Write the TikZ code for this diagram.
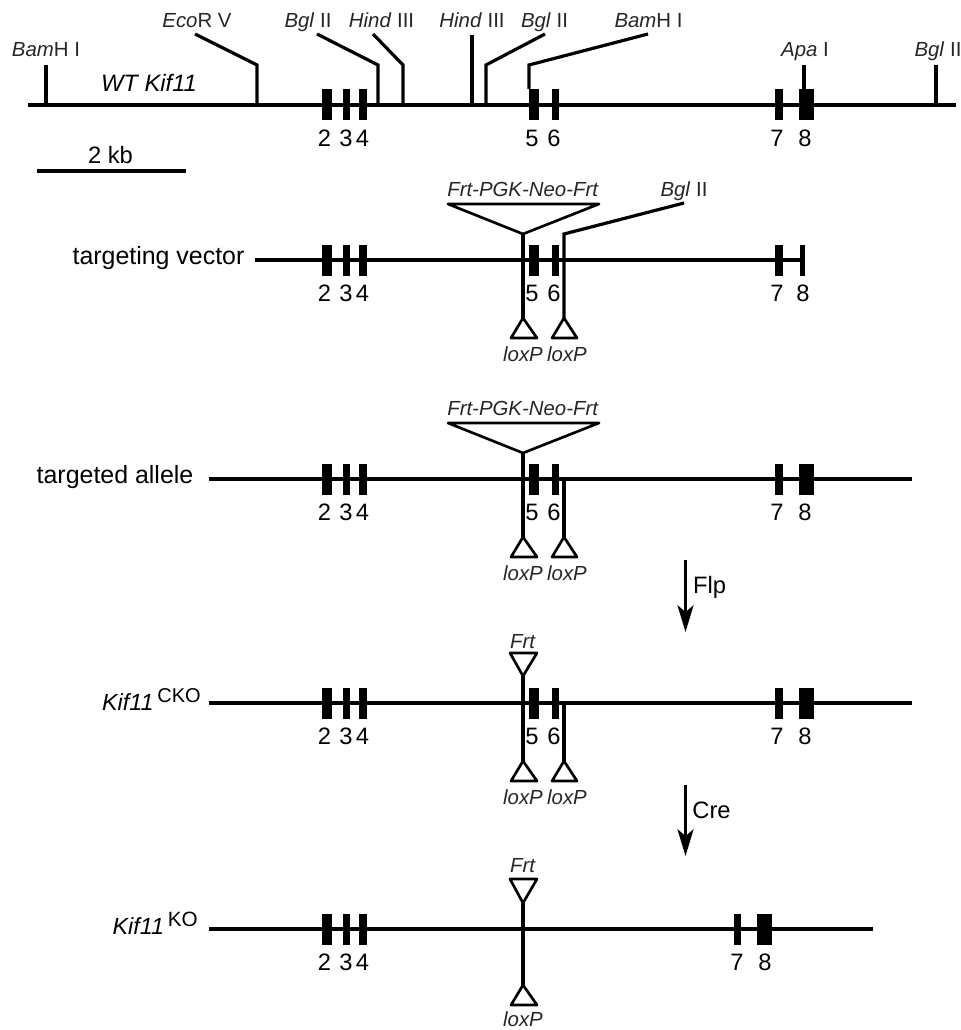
\documentclass[tikz,border=0pt]{standalone}
\usepackage{fontspec}
\setmainfont{Liberation Sans}
\usepackage{tikz}
\usetikzlibrary{positioning,arrows.meta}

\begin{document}
\begin{tikzpicture}[
    x=0.75pt, y=-0.75pt,
    gene/.style={line width=2.3pt},
    link/.style={line width=2.4pt, line join=miter},
    marker/.style={line width=2pt, line join=round},
    exon/.style={
        rectangle,
        fill=black,
        inner sep=0pt,
        minimum height=23.25pt
    },
    num/.style={font=\fontsize{17.8}{20}\selectfont, inner sep=0pt},
    site/.style={font=\fontsize{15.3}{17}\selectfont\color{black!85}, inner sep=0pt, anchor=base},
    rowname/.style={font=\fontsize{18.7}{21}\selectfont, inner sep=0pt, anchor=base},
    geno/.style={font=\fontsize{17.5}{20}\selectfont, inner sep=0pt, anchor=base},
    >={Stealth[length=20pt,width=12pt,inset=5pt]}
]
\useasboundingbox (0,0) rectangle (960,1030);

% WT allele
\coordinate (wtL) at (28,105);
\coordinate (wtR) at (956,105);
\draw[gene] (wtL) -- (wtR);
\foreach \nm/\cx/\ew/\lx in {2/326.5/10/324.5, 3/346.5/7/346, 4/363/8/362.5, 5/534/10/532, 6/555.5/7/554, 7/779/8/777, 8/806.5/15/805} {
    \node[exon, minimum width=\ew*0.75pt] (wt\nm) at (\cx,105) {};
    \node[num] (wtn\nm) at (\lx,138.5) {\nm};
}
\node[font=\fontsize{17.8}{20}\selectfont\itshape, inner sep=0pt, anchor=base] (wtname) at (149,92) {WT Kif11};
\node[num, anchor=base] (kb) at (110.5,164) {2 kb};
\coordinate (kbL) at (37,171);
\coordinate (kbR) at (186,171);
\draw[link] (kbL) -- (kbR);

% restriction sites
\node[site] (bam1) at (46,57) {\textit{Bam}H I};
\node[site] (eco) at (197,28) {\textit{Eco}R V};
\node[site] (bgl1) at (308,28) {\textit{Bgl} II};
\node[site] (hin1) at (381.5,28) {\textit{Hind} III};
\node[site] (hin2) at (472,28) {\textit{Hind} III};
\node[site] (bgl2) at (544.5,28) {\textit{Bgl} II};
\node[site] (bam2) at (648.5,28) {\textit{Bam}H I};
\node[site] (apa) at (805,57) {\textit{Apa} I};
\node[site] (bgl3) at (938,57) {\textit{Bgl} II};
\draw[link] (46,65) -- (46,105);
\draw[link] (195,34) -- (257,65) -- (257,105);
\draw[link] (317,34) -- (378,65) -- (378,105);
\draw[link] (373,34) -- (403,65) -- (403,105);
\draw[link] (472,35) -- (472,105);
\draw[link] (545,34) -- (486,65) -- (486,105);
\draw[link] (648,34) -- (529,65) -- (529,89);
\draw[link] (804,65) -- (804,89);
\draw[link] (936,65) -- (936,105);

% targeting vector
\node[rowname] (tvname) at (158.5,265) {targeting vector};
\coordinate (tvL) at (255,260);
\coordinate (tvR) at (803,260);
\draw[gene] (tvL) -- (tvR);
\foreach \nm/\cx/\ew/\lx in {2/326.5/10/324.5, 3/346.5/7/346, 4/363/8/362.5, 5/534/10/532, 6/555.5/7/554, 7/779/8/777, 8/802/5/803} {
    \node[exon, minimum width=\ew*0.75pt] (tv\nm) at (\cx,260.5) {};
    \node[num] (tvn\nm) at (\lx,293.5) {\nm};
}
\node[site] (tvneo) at (523,197) {\textit{Frt-PGK-Neo-Frt}};
\node[site] (tvbgl) at (684,197) {\textit{Bgl} II};
\draw[marker] (448,204) -- (599,204) -- (523,234) -- cycle;
\draw[link] (523,234) -- (523,318);
\draw[link] (684,203) -- (564,234) -- (564,318);
\draw[marker] (523,318) -- (537,338) -- (511,338) -- cycle;
\draw[marker] (564,318) -- (577,338) -- (552,338) -- cycle;
\node[site] (tvlox1) at (523,361) {\textit{loxP}};
\node[site] (tvlox2) at (567,361) {\textit{loxP}};

% targeted allele
\node[rowname] (taname) at (115,483) {targeted allele};
\coordinate (taL) at (209,479);
\coordinate (taR) at (912,479);
\draw[gene] (taL) -- (taR);
\foreach \nm/\cx/\ew/\lx in {2/326.5/10/324.5, 3/346.5/7/346, 4/363/8/362.5, 5/534/10/532, 6/555.5/7/554, 7/779/8/777, 8/806.5/15/805} {
    \node[exon, minimum width=\ew*0.75pt] (ta\nm) at (\cx,479.5) {};
    \node[num] (tan\nm) at (\lx,512.5) {\nm};
}
\node[site] (taneo) at (523,415) {\textit{Frt-PGK-Neo-Frt}};
\draw[marker] (448,423) -- (599,423) -- (523,453) -- cycle;
\draw[link] (523,453) -- (523,537);
\draw[link] (564,479) -- (564,537);
\draw[marker] (523,537) -- (537,557) -- (511,557) -- cycle;
\draw[marker] (564,537) -- (577,557) -- (552,557) -- cycle;
\node[site] (talox1) at (523,580) {\textit{loxP}};
\node[site] (talox2) at (567,580) {\textit{loxP}};

% Flp step
\coordinate (flpA) at (685.5,560);
\coordinate (flpB) at (685.5,632);
\draw[->, link] (flpA) -- (flpB);
\node[num, anchor=base] (flp) at (709.5,593) {Flp};

% conditional allele
\node[geno, anchor=base east] (ckoname) at (201,710) {\textit{Kif11}\,\raisebox{6pt}{\fontsize{15}{15}\selectfont CKO}};
\coordinate (ckoL) at (209,703);
\coordinate (ckoR) at (912,703);
\draw[gene] (ckoL) -- (ckoR);
\foreach \nm/\cx/\ew/\lx in {2/326.5/10/324.5, 3/346.5/7/346, 4/363/8/362.5, 5/534/10/532, 6/555.5/7/554, 7/779/8/777, 8/806.5/15/805} {
    \node[exon, minimum width=\ew*0.75pt] (cko\nm) at (\cx,703.5) {};
    \node[num] (ckon\nm) at (\lx,736.5) {\nm};
}
\node[site] (ckofrt) at (523,648) {\textit{Frt}};
\draw[marker] (510,653) -- (537,653) -- (523,676) -- cycle;
\draw[link] (523,676) -- (523,761);
\draw[link] (564,703) -- (564,761);
\draw[marker] (523,761) -- (537,781) -- (511,781) -- cycle;
\draw[marker] (564,761) -- (577,781) -- (552,781) -- cycle;
\node[site] (ckolox1) at (523,804) {\textit{loxP}};
\node[site] (ckolox2) at (567,804) {\textit{loxP}};

% Cre step
\coordinate (creA) at (685.5,785);
\coordinate (creB) at (685.5,856);
\draw[->, link] (creA) -- (creB);
\node[num, anchor=base] (cre) at (711.5,818) {Cre};

% knockout allele
\node[geno, anchor=base east] (koname) at (198,934) {\textit{Kif11}\,\raisebox{6pt}{\fontsize{15.5}{15}\selectfont KO}};
\coordinate (koL) at (209,929);
\coordinate (koR) at (873,929);
\draw[gene] (koL) -- (koR);
\foreach \nm/\cx/\ew/\lx in {2/326.5/10/324.5, 3/346.5/7/346, 4/363/8/362.5, 7/737.5/7/737, 8/764.5/15/765} {
    \node[exon, minimum width=\ew*0.75pt] (ko\nm) at (\cx,929.5) {};
    \node[num] (kon\nm) at (\lx,962.5) {\nm};
}
\node[site] (kofrt) at (523,872) {\textit{Frt}};
\draw[marker] (510,879) -- (537,879) -- (523,903) -- cycle;
\draw[link] (523,903) -- (523,985);
\draw[marker] (523,985) -- (537,1005) -- (511,1005) -- cycle;
\node[site] (kolox) at (523,1026) {\textit{loxP}};
\end{tikzpicture}
\end{document}
